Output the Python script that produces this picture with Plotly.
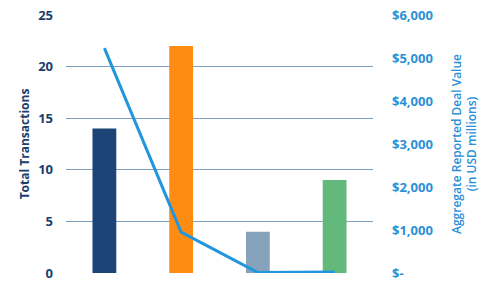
import plotly.graph_objects as go

categories = ["A", "B", "C", "D"]
transactions = [14, 22, 4, 9]
deal_value = [5230, 950, 10, 25]
bar_colors = ["#1b4577", "#ff8c12", "#87a3bb", "#63b87b"]
left_ticks = [0, 5, 10, 15, 20, 25]
right_ticks = [0, 1000, 2000, 3000, 4000, 5000, 6000]
right_tick_text = ["$-", "$1,000", "$2,000", "$3,000", "$4,000", "$5,000", "$6,000"]

fig = go.Figure()
fig.add_trace(go.Bar(x=categories, y=transactions, marker_color=bar_colors,
                     marker_line_width=0, width=0.31, yaxis="y"))
fig.add_trace(go.Scatter(x=categories, y=deal_value, mode="lines",
                         line=dict(color="#2196dc", width=3), yaxis="y2"))

font_family = "Open Sans, DejaVu Sans, sans-serif"
fig.update_layout(
    width=493, height=288,
    margin=dict(l=66, r=120, t=15, b=15),
    plot_bgcolor="white", paper_bgcolor="white",
    showlegend=False,
    xaxis=dict(showticklabels=False, showgrid=False, zeroline=False, showline=False,
               automargin=False),
    yaxis=dict(range=[0, 25], tickvals=left_ticks, showgrid=True, automargin=False,
               gridcolor="#7f9fbf", gridwidth=1, zeroline=False,
               ticklabelstandoff=12,
               tickfont=dict(family=font_family, size=13, color="#1a3e6e", weight="bold"),
               title=dict(text="Total Transactions", standoff=5,
                          font=dict(family=font_family, size=12, color="#1a3e6e", weight="bold"))),
    yaxis2=dict(range=[0, 6000], overlaying="y", side="right", tickvals=right_ticks,
                ticktext=right_tick_text, showgrid=False, zeroline=False, automargin=False,
                ticklabelstandoff=18,
                tickfont=dict(family=font_family, size=13, color="#2a90d8", weight="bold"),
                title=dict(text="Aggregate Reported Deal Value<br>(in USD millions)", standoff=20,
                           font=dict(family=font_family, size=12, color="#2a90d8", weight=600))),
)

fig.write_html("out.html")
